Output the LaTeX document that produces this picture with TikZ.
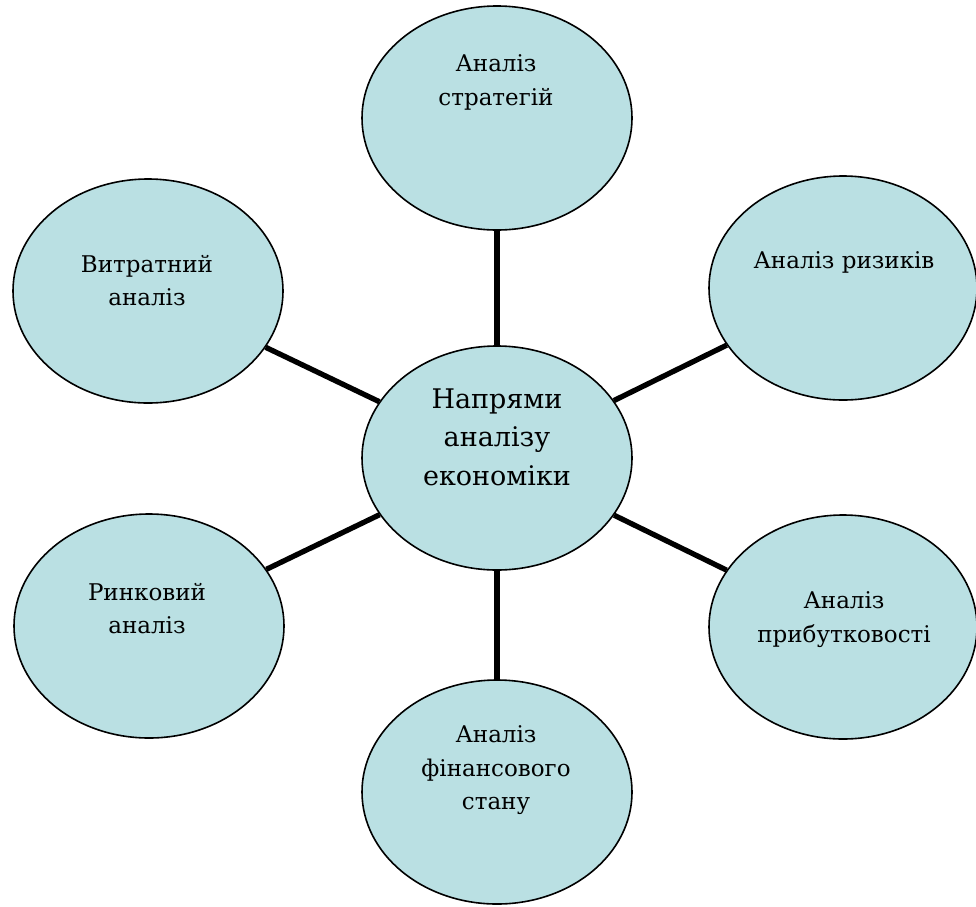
\documentclass[tikz,border=0pt]{standalone}
\usepackage{fontspec}
\setmainfont{DejaVu Serif}
\newfontfamily\bubblefont{DejaVu Serif}
\usetikzlibrary{shapes.geometric}
\definecolor{bubblefill}{RGB}{186,224,227}
\tikzset{
  bubble/.style={ellipse, draw=black, line width=1.6pt, fill=bubblefill,
    minimum width=270pt, minimum height=224pt, inner sep=0pt},
  outertext/.style={anchor=north, inner sep=0pt, align=center,
    font={\bubblefont\fontsize{23}{33.5}\selectfont}},
  centertext/.style={anchor=north, inner sep=0pt, align=center,
    font={\bubblefont\fontsize{27}{38.5}\selectfont}},
  spoke/.style={line width=5.3pt, black}
}
\begin{document}
\begin{tikzpicture}[x=1pt,y=-1pt]
\useasboundingbox (0,0) rectangle (976,906);
\fill[white] (0,0) rectangle (976,906);
% ellipses
\node[bubble] (c)   at (497,458) {};
\node[bubble] (top) at (497,118) {};
\node[bubble, minimum width=268pt] (rt)  at (843,288) {};
\node[bubble] (lt)  at (148,291) {};
\node[bubble] (lb)  at (149,626) {};
\node[bubble, minimum width=268pt] (rb)  at (843,627) {};
\node[bubble] (bot) at (497,792) {};
% spokes
\draw[spoke] (c) -- (top);
\draw[spoke] (c) -- (rt);
\draw[spoke] (c) -- (lt);
\draw[spoke] (c) -- (lb);
\draw[spoke] (c) -- (rb);
\draw[spoke] (c) -- (bot);
% texts
\node[centertext] (tc)   at (497,388.3) {Напрями\\аналізу\\економіки};
\node[outertext]  (ttop) at (496,54.7) {Аналіз\\стратегій};
\node[outertext]  (trt)  at (844,251.7) {Аналіз ризиків};
\node[outertext]  (tlt)  at (147,254.7) {Витратний\\аналіз};
\node[outertext]  (tlb)  at (147,582.7) {Ринковий\\аналіз};
\node[outertext]  (trb)  at (844,591.7) {Аналіз\\прибутковості};
\node[outertext]  (tbot) at (496,725.7) {Аналіз\\фінансового\\стану};
\end{tikzpicture}
\end{document}
